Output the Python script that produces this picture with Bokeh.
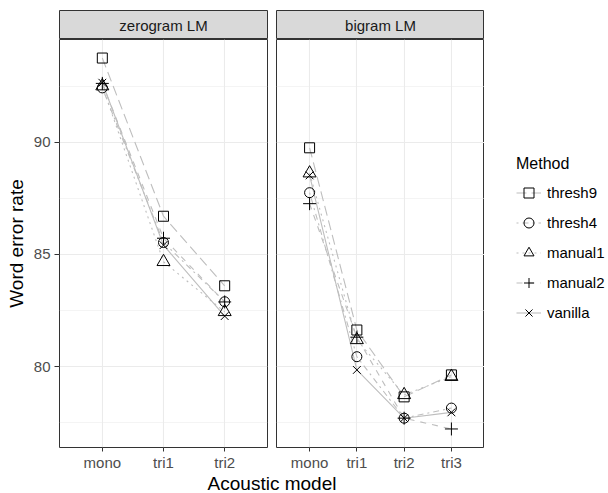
from bokeh.plotting import figure
from bokeh.models import FactorRange, Range1d, FixedTicker, Legend, LegendItem, Label
from bokeh.layouts import row, column
from bokeh.embed import file_html
from bokeh.resources import INLINE

# ---------------- data ----------------
methods = ["thresh9", "thresh4", "manual1", "manual2", "vanilla"]
panels = ["zerogram LM", "bigram LM"]

zerogram_models = ["mono", "tri1", "tri2"]
zerogram_thresh9 = [93.75, 86.70, 83.60]
zerogram_thresh4 = [92.42, 85.53, 82.89]
zerogram_manual1 = [92.50, 84.67, 82.44]
zerogram_manual2 = [92.62, 85.72, 82.88]
zerogram_vanilla = [92.65, 85.41, 82.25]

bigram_models = ["mono", "tri1", "tri2", "tri3"]
bigram_thresh9 = [89.75, 81.63, 78.65, 79.63]
bigram_thresh4 = [87.75, 80.44, 77.70, 78.15]
bigram_manual1 = [88.62, 81.19, 78.74, 79.55]
bigram_manual2 = [87.26, 81.31, 77.70, 77.22]
bigram_vanilla = [88.52, 79.85, 77.70, 77.96]

y_ticks = [80, 85, 90]
y_minor_ticks = [77.5, 82.5, 87.5, 92.5]

zerogram = dict(zip(methods, [zerogram_thresh9, zerogram_thresh4, zerogram_manual1,
                              zerogram_manual2, zerogram_vanilla]))
bigram = dict(zip(methods, [bigram_thresh9, bigram_thresh4, bigram_manual1,
                            bigram_manual2, bigram_vanilla]))

# ---------------- style ----------------
FONT = "Liberation Sans"
LINE_COL = "#BEBEBE"
GRID_COL = "#EBEBEB"
BORDER_COL = "#333333"
markers = {"thresh9": ("square", 10), "thresh4": ("circle", 10),
           "manual1": ("triangle", 13), "manual2": ("cross", 13), "vanilla": ("x", 11)}
dashes = {"thresh9": "10 5", "thresh4": "2 4 6 4", "manual1": "2 4",
          "manual2": "6 6", "vanilla": "solid"}

all_vals = [v for d in (zerogram, bigram) for s in d.values() for v in s]
lo, hi = min(all_vals), max(all_vals)
pad = 0.05 * (hi - lo)
Y0, Y1 = lo - pad, hi + pad

FRAME_W = 208
FRAME_H = 408
STRIP_H = 29
TOP_B = 10
BOTTOM_B = 26
LEFT_B = 59
GAP_B = 8
LEGEND_W = 123


def make_panel(models, data, show_y):
    p = figure(frame_width=FRAME_W, frame_height=FRAME_H,
               x_range=FactorRange(factors=models, range_padding=0.2,
                                   range_padding_units="absolute"),
               y_range=Range1d(Y0, Y1), output_backend="svg", toolbar_location=None,
               min_border_left=LEFT_B if show_y else GAP_B,
               min_border_right=1 if show_y else 0,
               min_border_top=0, min_border_bottom=BOTTOM_B)
    p.outline_line_color = BORDER_COL
    p.outline_line_width = 1
    p.background_fill_color = "white"
    p.border_fill_color = "white"
    ticker = FixedTicker(ticks=y_ticks, minor_ticks=y_minor_ticks)
    p.yaxis.ticker = ticker
    p.ygrid.ticker = ticker
    p.ygrid.grid_line_color = GRID_COL
    p.ygrid.grid_line_width = 1.1
    p.ygrid.minor_grid_line_color = GRID_COL
    p.ygrid.minor_grid_line_width = 0.55
    p.xgrid.grid_line_color = GRID_COL
    p.xgrid.grid_line_width = 1.1

    ax = p.xaxis[0]
    ax.axis_line_color = None
    ax.major_tick_line_color = BORDER_COL
    ax.major_tick_out = 4
    ax.major_tick_in = 0
    ax.minor_tick_line_color = None
    ax.major_label_standoff = 2
    ax.major_label_text_font = FONT
    ax.major_label_text_font_size = "15px"
    ax.major_label_text_color = "#4D4D4D"

    ay = p.yaxis[0]
    if show_y:
        ay.axis_line_color = None
        ay.major_tick_line_color = BORDER_COL
        ay.major_tick_out = 5
        ay.major_tick_in = 0
        ay.minor_tick_line_color = None
        ay.major_label_standoff = 4
        ay.major_label_text_font = FONT
        ay.major_label_text_font_size = "15px"
        ay.major_label_text_color = "#4D4D4D"
        ay.axis_label = "Word error rate"
        ay.axis_label_text_font = FONT
        ay.axis_label_text_font_size = "19px"
        ay.axis_label_text_font_style = "normal"
        ay.axis_label_text_color = "#000000"
        ay.axis_label_standoff = 4
    else:
        ay.visible = False

    add_series(p, models, data)
    return p


def add_series(p, models, data):
    line_r, pt_r = {}, {}
    for m in methods:
        line_r[m] = p.line(models, data[m], line_color=LINE_COL, line_width=1.1,
                           line_dash=dashes[m])
    for m in methods:
        mk, sz = markers[m]
        pt_r[m] = p.scatter(models, data[m], marker=mk, size=sz, line_color="black",
                            line_width=1, fill_color=None)
    return line_r, pt_r


def make_strip(text, show_y):
    p = figure(frame_width=FRAME_W, frame_height=STRIP_H, x_range=Range1d(0, 1),
               y_range=Range1d(0, 1), x_axis_location=None, y_axis_location=None,
               output_backend="svg", toolbar_location=None,
               min_border_left=LEFT_B if show_y else GAP_B, min_border_right=1 if show_y else 0,
               min_border_top=TOP_B, min_border_bottom=0)
    p.grid.visible = False
    p.background_fill_color = "#D9D9D9"
    p.border_fill_color = "white"
    p.outline_line_color = BORDER_COL
    p.outline_line_width = 1
    p.add_layout(Label(x=0.5, y=0.5, text=text, text_align="center", text_baseline="middle",
                       text_font=FONT, text_font_size="15px", text_color="#1A1A1A"))
    return p


strip_l = make_strip(panels[0], True)
strip_r = make_strip(panels[1], False)
panel_l = make_panel(zerogram_models, zerogram, True)
panel_r = make_panel(bigram_models, bigram, False)

# legend figure: same series, drawn outside its (empty) visible range; only the legend shows
LEG_H = TOP_B + STRIP_H + FRAME_H + BOTTOM_B
leg = figure(width=LEGEND_W, height=LEG_H,
             x_range=FactorRange(factors=bigram_models), y_range=Range1d(0, 1),
             x_axis_location=None, y_axis_location=None, output_backend="svg",
             toolbar_location=None, min_border=0)
leg.grid.visible = False
leg.outline_line_color = None
leg_lines, leg_pts = add_series(leg, bigram_models, bigram)
items = [LegendItem(label=m, renderers=[leg_lines[m], leg_pts[m]]) for m in methods]
legend = Legend(items=items, location=(32, 148), title="Method",
                title_text_font=FONT, title_text_font_size="16px", title_text_font_style="normal",
                title_text_color="#000000", title_standoff=7,
                label_text_font=FONT, label_text_font_size="15px", label_text_color="#000000",
                glyph_width=25, glyph_height=25, label_height=25, label_standoff=6,
                spacing=5, padding=0, margin=0, border_line_color=None,
                background_fill_alpha=0)
leg.add_layout(legend)

# x axis title figure
TOTAL_W = LEFT_B + FRAME_W + 1 + GAP_B + FRAME_W + LEGEND_W
xt = figure(width=TOTAL_W, height=19, x_range=Range1d(0, TOTAL_W), y_range=Range1d(0, 1),
            x_axis_location=None, y_axis_location=None, output_backend="svg",
            toolbar_location=None, min_border=0)
xt.grid.visible = False
xt.outline_line_color = None
xt.add_layout(Label(x=(LEFT_B + LEFT_B + FRAME_W + 1 + GAP_B + FRAME_W) / 2, y=0.5,
                    text="Acoustic model", text_align="center",
                    text_baseline="middle", text_font=FONT, text_font_size="19px",
                    text_color="#000000"))

layout = column(row(column(strip_l, panel_l), column(strip_r, panel_r), leg), xt)
open("out.html", "w").write(file_html(layout, INLINE))
